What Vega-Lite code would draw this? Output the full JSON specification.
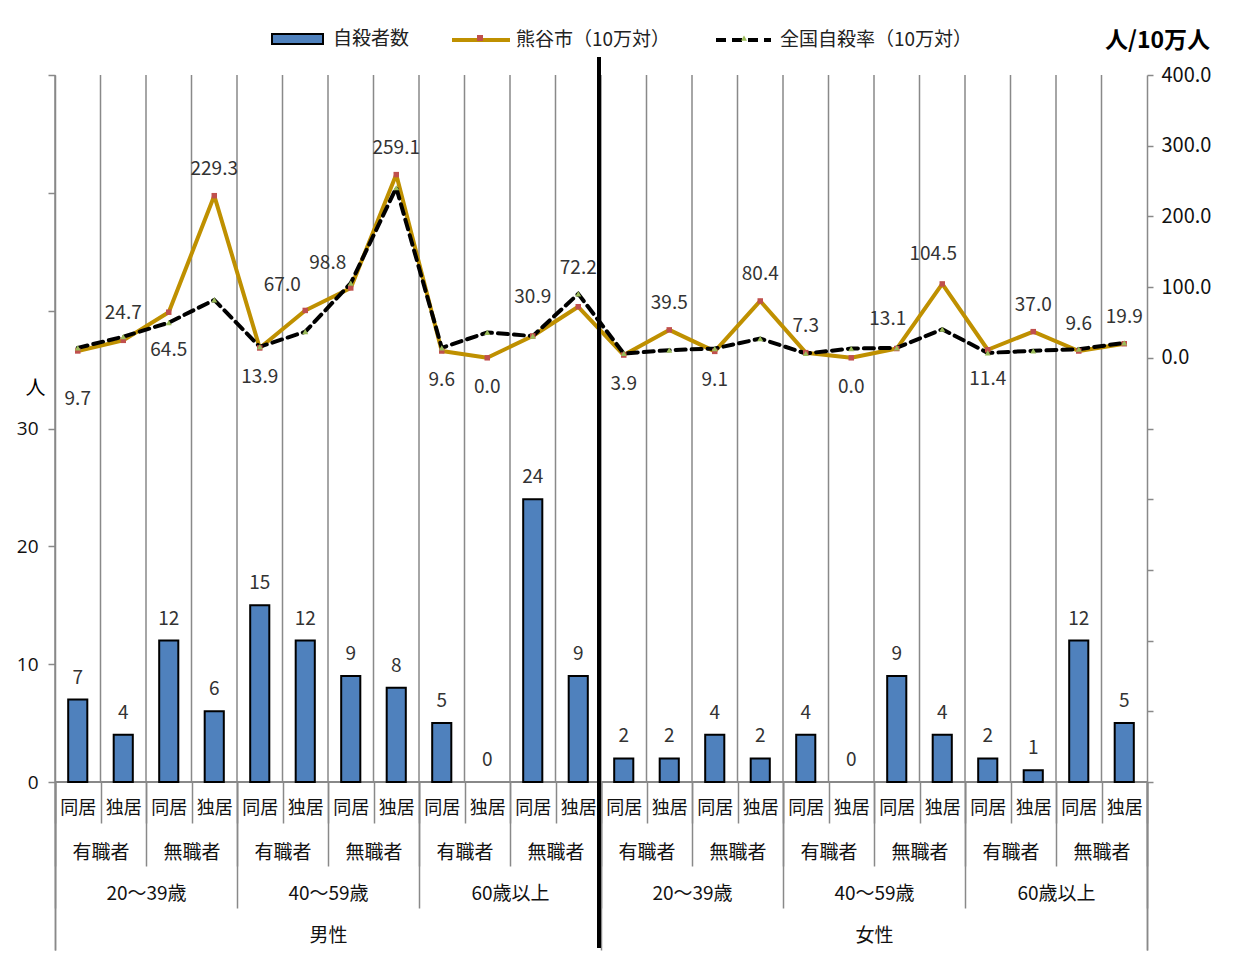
{
  "$schema": "https://vega.github.io/schema/vega-lite/v6.json",
  "width": 1092,
  "height": 875,
  "autosize": {"type": "none"},
  "padding": {"left": 55, "top": 75, "right": 96, "bottom": 5},
  "background": "white",
  "data": {
    "values": [
      {"n": 1, "key": "01|同居", "job": "01|有職者", "age": "1|20～39歳", "sex": "1|男性", "count": 7, "city": 9.7, "nation": 14.1},
      {"n": 2, "key": "02|独居", "job": "01|有職者", "age": "1|20～39歳", "sex": "1|男性", "count": 4, "city": 24.7, "nation": 29.8},
      {"n": 3, "key": "03|同居", "job": "02|無職者", "age": "1|20～39歳", "sex": "1|男性", "count": 12, "city": 64.5, "nation": 49.7},
      {"n": 4, "key": "04|独居", "job": "02|無職者", "age": "1|20～39歳", "sex": "1|男性", "count": 6, "city": 229.3, "nation": 81.9},
      {"n": 5, "key": "05|同居", "job": "03|有職者", "age": "2|40～59歳", "sex": "1|男性", "count": 15, "city": 13.9, "nation": 15.6},
      {"n": 6, "key": "06|独居", "job": "03|有職者", "age": "2|40～59歳", "sex": "1|男性", "count": 12, "city": 67.0, "nation": 36.9},
      {"n": 7, "key": "07|同居", "job": "04|無職者", "age": "2|40～59歳", "sex": "1|男性", "count": 9, "city": 98.8, "nation": 105.5},
      {"n": 8, "key": "08|独居", "job": "04|無職者", "age": "2|40～59歳", "sex": "1|男性", "count": 8, "city": 259.1, "nation": 240.5},
      {"n": 9, "key": "09|同居", "job": "05|有職者", "age": "3|60歳以上", "sex": "1|男性", "count": 5, "city": 9.6, "nation": 14.1},
      {"n": 10, "key": "10|独居", "job": "05|有職者", "age": "3|60歳以上", "sex": "1|男性", "count": 0, "city": 0.0, "nation": 35.9},
      {"n": 11, "key": "11|同居", "job": "06|無職者", "age": "3|60歳以上", "sex": "1|男性", "count": 24, "city": 30.9, "nation": 30.7},
      {"n": 12, "key": "12|独居", "job": "06|無職者", "age": "3|60歳以上", "sex": "1|男性", "count": 9, "city": 72.2, "nation": 90.4},
      {"n": 13, "key": "13|同居", "job": "07|有職者", "age": "4|20～39歳", "sex": "2|女性", "count": 2, "city": 3.9, "nation": 6.1},
      {"n": 14, "key": "14|独居", "job": "07|有職者", "age": "4|20～39歳", "sex": "2|女性", "count": 2, "city": 39.5, "nation": 10.8},
      {"n": 15, "key": "15|同居", "job": "08|無職者", "age": "4|20～39歳", "sex": "2|女性", "count": 4, "city": 9.1, "nation": 13.1},
      {"n": 16, "key": "16|独居", "job": "08|無職者", "age": "4|20～39歳", "sex": "2|女性", "count": 2, "city": 80.4, "nation": 27.2},
      {"n": 17, "key": "17|同居", "job": "09|有職者", "age": "5|40～59歳", "sex": "2|女性", "count": 4, "city": 7.3, "nation": 6.1},
      {"n": 18, "key": "18|独居", "job": "09|有職者", "age": "5|40～59歳", "sex": "2|女性", "count": 0, "city": 0.0, "nation": 13.1},
      {"n": 19, "key": "19|同居", "job": "10|無職者", "age": "5|40～59歳", "sex": "2|女性", "count": 9, "city": 13.1, "nation": 14.1},
      {"n": 20, "key": "20|独居", "job": "10|無職者", "age": "5|40～59歳", "sex": "2|女性", "count": 4, "city": 104.5, "nation": 40.4},
      {"n": 21, "key": "21|同居", "job": "11|有職者", "age": "6|60歳以上", "sex": "2|女性", "count": 2, "city": 11.4, "nation": 7.0},
      {"n": 22, "key": "22|独居", "job": "11|有職者", "age": "6|60歳以上", "sex": "2|女性", "count": 1, "city": 37.0, "nation": 9.9},
      {"n": 23, "key": "23|同居", "job": "12|無職者", "age": "6|60歳以上", "sex": "2|女性", "count": 12, "city": 9.6, "nation": 12.2},
      {"n": 24, "key": "24|独居", "job": "12|無職者", "age": "6|60歳以上", "sex": "2|女性", "count": 5, "city": 19.9, "nation": 21.1}
    ]
  },
  "config": {
    "view": {"stroke": null},
    "font": "Noto Sans CJK JP",
    "axis": {"domainColor": "#898989", "domainWidth": 1.5, "tickColor": "#898989", "tickWidth": 1.5, "labelColor": "#111111", "labelFont": "Noto Sans CJK JP", "grid": false, "titleColor": "#000000", "titleFont": "Noto Sans CJK JP"},
    "legend": {"labelFont": "Noto Sans CJK JP", "labelFontSize": 19, "labelColor": "#222222", "labelLimit": 400, "padding": 0}
  },
  "resolve": {"scale": {"x": "independent", "y": "independent"}, "axis": {"x": "independent", "y": "independent"}},
  "layer": [
    {
      "mark": {"type": "rule", "color": "#898989", "strokeWidth": 1.5},
      "encoding": {
        "x": {"field": "key", "type": "nominal", "bandPosition": 0, "scale": {"type": "band", "paddingInner": 0, "paddingOuter": 0}, "axis": null},
        "y": {"datum": 60, "scale": {"domain": [-14.257, 60], "nice": false, "zero": false}, "axis": null},
        "y2": {"datum": 0}
      }
    },
    {
      "mark": {"type": "rule", "color": "#898989", "strokeWidth": 1.5},
      "encoding": {
        "y": {"datum": 0, "scale": {"domain": [-14.257, 60], "nice": false, "zero": false}, "axis": null}
      }
    },
    {
      "mark": {"type": "bar", "width": {"band": 0.42}, "stroke": "#000000"},
      "encoding": {
        "x": {"field": "key", "type": "nominal", "scale": {"type": "band", "paddingInner": 0, "paddingOuter": 0},
          "axis": {"orient": "bottom", "offset": -168, "domain": false, "tickBand": "extent", "tickSize": 41, "labelPadding": -15, "labelBaseline": "middle", "labelAngle": 0, "labelFontSize": 18, "labelExpr": "peek(split(datum.label, '|'))", "labelOverlap": false, "title": null}},
        "y": {"field": "count", "type": "quantitative", "scale": {"domain": [-14.257, 60], "nice": false, "zero": false},
          "axis": {"orient": "left", "values": [0, 10, 20, 30, 40, 50, 60], "labelExpr": "datum.value <= 30 ? datum.label : ''", "tickSize": 7, "labelPadding": 10, "labelFont": "Open Sans", "labelFontSize": 19, "title": "人", "titleAngle": 0, "titleX": -20, "titleY": 313, "titleAlign": "center", "titleBaseline": "middle", "titleFontSize": 20, "titleFontWeight": "normal"}},
        "strokeWidth": {"condition": {"test": "datum.count === 0", "value": 0}, "value": 2},
        "fill": {"datum": "自殺者数", "type": "nominal",
          "scale": {"domain": ["自殺者数"], "range": ["#4F81BD"]},
          "legend": {"orient": "none", "legendX": 216, "legendY": -62.5, "title": null, "padding": 0, "symbolType": "M-1,-0.2L1,-0.2L1,0.2L-1,0.2Z", "symbolSize": 2601, "symbolStrokeColor": "#000000", "symbolStrokeWidth": 2, "labelOffset": 9}}
      }
    },
    {
      "mark": {"type": "text", "dy": -22, "fontSize": 19, "color": "#333333"},
      "encoding": {
        "x": {"field": "key", "type": "nominal", "axis": null},
        "y": {"field": "count", "type": "quantitative", "scale": {"domain": [-14.257, 60], "nice": false, "zero": false}, "axis": null},
        "text": {"field": "count", "type": "quantitative"}
      }
    },
    {
      "mark": {"type": "line", "strokeWidth": 4, "strokeJoin": "round"},
      "encoding": {
        "x": {"field": "key", "type": "nominal", "axis": null},
        "y": {"field": "city", "type": "quantitative", "scale": {"domain": [-837.6, 400], "nice": false, "zero": false},
          "axis": {"orient": "right", "values": [-600, -500, -400, -300, -200, -100, 0, 100, 200, 300, 400], "labelExpr": "datum.value >= 0 ? format(datum.value, '.1f') : ''", "tickSize": 6, "labelPadding": 8, "labelFontSize": 20, "labelBaseline": "middle", "title": "人/10万人", "titleAngle": 0, "titleX": 10, "titleY": -35, "titleAlign": "center", "titleBaseline": "middle", "titleFontSize": 23, "titleFontWeight": "bold"}},
        "stroke": {"datum": "熊谷市（10万対）", "type": "nominal",
          "scale": {"domain": ["熊谷市（10万対）"], "range": ["#BF9000"]},
          "legend": {"orient": "none", "legendX": 395, "legendY": -66, "title": null, "padding": 0, "symbolType": "stroke", "symbolSize": 3364, "symbolStrokeWidth": 4, "labelOffset": 4}}
      }
    },
    {
      "mark": {"type": "line", "stroke": "#000000", "strokeWidth": 4, "strokeCap": "round"},
      "encoding": {
        "x": {"field": "key", "type": "nominal", "axis": null},
        "y": {"field": "nation", "type": "quantitative", "scale": {"domain": [-837.6, 400], "nice": false, "zero": false}, "axis": null},
        "strokeDash": {"datum": "全国自殺率（10万対）", "type": "nominal",
          "scale": {"domain": ["全国自殺率（10万対）"], "range": [[10, 6]]},
          "legend": {"orient": "none", "legendX": 659, "legendY": -64.5, "title": null, "padding": 0, "symbolType": "stroke", "symbolSize": 3025, "symbolStrokeWidth": 4, "symbolStrokeColor": "#000000", "labelOffset": 7}}
      }
    },
    {
      "mark": {"type": "point", "filled": true, "size": 30, "opacity": 1},
      "encoding": {
        "x": {"field": "key", "type": "nominal", "axis": null},
        "y": {"field": "city", "type": "quantitative", "scale": {"domain": [-837.6, 400], "nice": false, "zero": false}, "axis": null},
        "color": {"datum": "熊谷市", "type": "nominal",
          "scale": {"domain": ["熊谷市", "全国"], "range": ["#C0504D", "#9BBB59"]},
          "legend": {"orient": "none", "legendX": 421, "legendY": -41, "title": null, "padding": 0, "direction": "horizontal", "columns": 2, "columnPadding": 256, "labelExpr": "''", "labelFontSize": 1, "labelOffset": 0, "symbolSize": 36, "zindex": 1}},
        "shape": {"datum": "熊谷市", "type": "nominal",
          "scale": {"domain": ["熊谷市", "全国"], "range": ["square", "triangle-up"]},
          "legend": {"orient": "none", "legendX": 421, "legendY": -41, "title": null, "padding": 0, "direction": "horizontal", "columns": 2, "columnPadding": 256, "labelExpr": "''", "labelFontSize": 1, "labelOffset": 0, "symbolSize": 36, "zindex": 1}}
      }
    },
    {
      "mark": {"type": "point", "filled": true, "size": 36, "opacity": 1},
      "encoding": {
        "x": {"field": "key", "type": "nominal", "axis": null},
        "y": {"field": "nation", "type": "quantitative", "scale": {"domain": [-837.6, 400], "nice": false, "zero": false}, "axis": null},
        "color": {"datum": "全国", "type": "nominal"},
        "shape": {"datum": "全国", "type": "nominal"}
      }
    },
    {
      "transform": [{"filter": "datum.n === 1"}],
      "mark": {"type": "text", "dy": 48, "fontSize": 19, "color": "#333333"},
      "encoding": {
        "x": {"field": "key", "type": "nominal", "scale": {"domain": ["01|同居","02|独居","03|同居","04|独居","05|同居","06|独居","07|同居","08|独居","09|同居","10|独居","11|同居","12|独居","13|同居","14|独居","15|同居","16|独居","17|同居","18|独居","19|同居","20|独居","21|同居","22|独居","23|同居","24|独居"]}, "axis": null},
        "y": {"field": "city", "type": "quantitative", "scale": {"domain": [-837.6, 400], "nice": false, "zero": false}, "axis": null},
        "text": {"field": "city", "type": "quantitative", "format": ".1f"}
      }
    },
    {
      "transform": [{"filter": "datum.n === 3"}],
      "mark": {"type": "text", "dy": 38, "fontSize": 19, "color": "#333333"},
      "encoding": {
        "x": {"field": "key", "type": "nominal", "scale": {"domain": ["01|同居","02|独居","03|同居","04|独居","05|同居","06|独居","07|同居","08|独居","09|同居","10|独居","11|同居","12|独居","13|同居","14|独居","15|同居","16|独居","17|同居","18|独居","19|同居","20|独居","21|同居","22|独居","23|同居","24|独居"]}, "axis": null},
        "y": {"field": "city", "type": "quantitative", "scale": {"domain": [-837.6, 400], "nice": false, "zero": false}, "axis": null},
        "text": {"field": "city", "type": "quantitative", "format": ".1f"}
      }
    },
    {
      "transform": [{"filter": "indexof([5, 9, 10, 13, 15, 18, 21], datum.n) >= 0"}],
      "mark": {"type": "text", "dy": 29, "fontSize": 19, "color": "#333333"},
      "encoding": {
        "x": {"field": "key", "type": "nominal", "scale": {"domain": ["01|同居","02|独居","03|同居","04|独居","05|同居","06|独居","07|同居","08|独居","09|同居","10|独居","11|同居","12|独居","13|同居","14|独居","15|同居","16|独居","17|同居","18|独居","19|同居","20|独居","21|同居","22|独居","23|同居","24|独居"]}, "axis": null},
        "y": {"field": "city", "type": "quantitative", "scale": {"domain": [-837.6, 400], "nice": false, "zero": false}, "axis": null},
        "text": {"field": "city", "type": "quantitative", "format": ".1f"}
      }
    },
    {
      "transform": [{"filter": "indexof([11, 12], datum.n) >= 0"}],
      "mark": {"type": "text", "dy": -39, "fontSize": 19, "color": "#333333"},
      "encoding": {
        "x": {"field": "key", "type": "nominal", "scale": {"domain": ["01|同居","02|独居","03|同居","04|独居","05|同居","06|独居","07|同居","08|独居","09|同居","10|独居","11|同居","12|独居","13|同居","14|独居","15|同居","16|独居","17|同居","18|独居","19|同居","20|独居","21|同居","22|独居","23|同居","24|独居"]}, "axis": null},
        "y": {"field": "city", "type": "quantitative", "scale": {"domain": [-837.6, 400], "nice": false, "zero": false}, "axis": null},
        "text": {"field": "city", "type": "quantitative", "format": ".1f"}
      }
    },
    {
      "transform": [{"filter": "indexof([6, 7], datum.n) >= 0"}],
      "mark": {"type": "text", "dy": -25, "dx": -23, "fontSize": 19, "color": "#333333"},
      "encoding": {
        "x": {"field": "key", "type": "nominal", "scale": {"domain": ["01|同居","02|独居","03|同居","04|独居","05|同居","06|独居","07|同居","08|独居","09|同居","10|独居","11|同居","12|独居","13|同居","14|独居","15|同居","16|独居","17|同居","18|独居","19|同居","20|独居","21|同居","22|独居","23|同居","24|独居"]}, "axis": null},
        "y": {"field": "city", "type": "quantitative", "scale": {"domain": [-837.6, 400], "nice": false, "zero": false}, "axis": null},
        "text": {"field": "city", "type": "quantitative", "format": ".1f"}
      }
    },
    {
      "transform": [{"filter": "indexof([19, 20], datum.n) >= 0"}],
      "mark": {"type": "text", "dy": -30, "dx": -9, "fontSize": 19, "color": "#333333"},
      "encoding": {
        "x": {"field": "key", "type": "nominal", "scale": {"domain": ["01|同居","02|独居","03|同居","04|独居","05|同居","06|独居","07|同居","08|独居","09|同居","10|独居","11|同居","12|独居","13|同居","14|独居","15|同居","16|独居","17|同居","18|独居","19|同居","20|独居","21|同居","22|独居","23|同居","24|独居"]}, "axis": null},
        "y": {"field": "city", "type": "quantitative", "scale": {"domain": [-837.6, 400], "nice": false, "zero": false}, "axis": null},
        "text": {"field": "city", "type": "quantitative", "format": ".1f"}
      }
    },
    {
      "transform": [{"filter": "indexof([2, 4, 8, 14, 16, 17, 22, 23, 24], datum.n) >= 0"}],
      "mark": {"type": "text", "dy": -27, "fontSize": 19, "color": "#333333"},
      "encoding": {
        "x": {"field": "key", "type": "nominal", "scale": {"domain": ["01|同居","02|独居","03|同居","04|独居","05|同居","06|独居","07|同居","08|独居","09|同居","10|独居","11|同居","12|独居","13|同居","14|独居","15|同居","16|独居","17|同居","18|独居","19|同居","20|独居","21|同居","22|独居","23|同居","24|独居"]}, "axis": null},
        "y": {"field": "city", "type": "quantitative", "scale": {"domain": [-837.6, 400], "nice": false, "zero": false}, "axis": null},
        "text": {"field": "city", "type": "quantitative", "format": ".1f"}
      }
    },
    {
      "mark": {"type": "point", "opacity": 0},
      "encoding": {
        "x": {"field": "job", "type": "nominal", "scale": {"type": "band", "paddingInner": 0, "paddingOuter": 0},
          "axis": {"orient": "bottom", "offset": -168, "domain": false, "tickBand": "extent", "tickSize": 84, "labelPadding": -14, "labelBaseline": "middle", "labelAngle": 0, "labelFontSize": 19, "labelExpr": "peek(split(datum.label, '|'))", "labelOverlap": false, "title": null}}
      }
    },
    {
      "mark": {"type": "point", "opacity": 0},
      "encoding": {
        "x": {"field": "age", "type": "nominal", "scale": {"type": "band", "paddingInner": 0, "paddingOuter": 0},
          "axis": {"orient": "bottom", "offset": -168, "domain": false, "tickBand": "extent", "tickSize": 126, "labelPadding": -15, "labelBaseline": "middle", "labelAngle": 0, "labelFontSize": 19, "labelExpr": "peek(split(datum.label, '|'))", "labelOverlap": false, "title": null}}
      }
    },
    {
      "mark": {"type": "point", "opacity": 0},
      "encoding": {
        "x": {"field": "sex", "type": "nominal", "scale": {"type": "band", "paddingInner": 0, "paddingOuter": 0},
          "axis": {"orient": "bottom", "offset": -168, "domain": false, "tickBand": "extent", "tickSize": 168, "labelPadding": -15, "labelBaseline": "middle", "labelAngle": 0, "labelFontSize": 19, "labelExpr": "peek(split(datum.label, '|'))", "labelOverlap": false, "title": null}}
      }
    },
    {
      "transform": [{"filter": "datum.n === 13"}],
      "mark": {"type": "rule", "color": "#000000", "strokeWidth": 4, "xOffset": -2},
      "encoding": {
        "x": {"field": "key", "type": "nominal", "bandPosition": 0, "scale": {"type": "band", "paddingInner": 0, "paddingOuter": 0, "domain": ["01|同居","02|独居","03|同居","04|独居","05|同居","06|独居","07|同居","08|独居","09|同居","10|独居","11|同居","12|独居","13|同居","14|独居","15|同居","16|独居","17|同居","18|独居","19|同居","20|独居","21|同居","22|独居","23|同居","24|独居"]}, "axis": null},
        "y": {"datum": 61.53, "scale": {"domain": [-14.257, 60], "nice": false, "zero": false}, "axis": null},
        "y2": {"datum": -14.09}
      }
    }
  ]
}
